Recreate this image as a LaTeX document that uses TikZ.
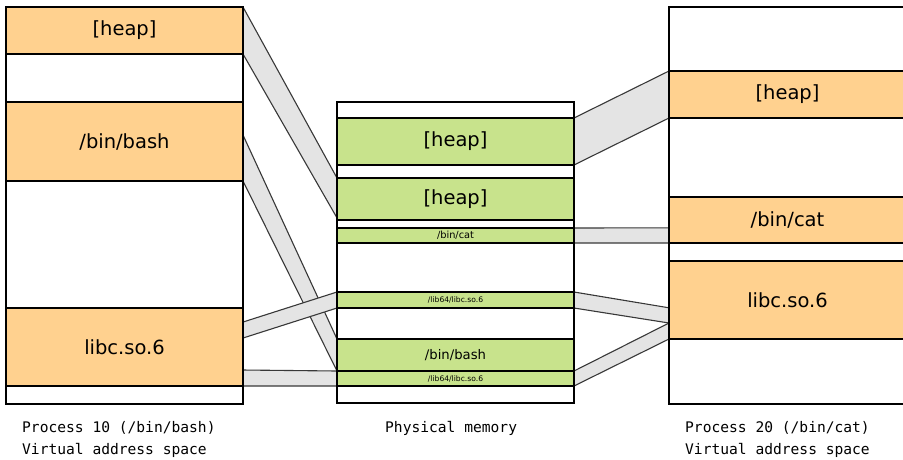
\documentclass[tikz,border=0pt]{standalone}
\usepackage{fontspec}
\setmainfont{DejaVu Sans}
\setmonofont{DejaVu Sans Mono}
\usetikzlibrary{calc,backgrounds}
\definecolor{orangebox}{HTML}{FFD18F}
\definecolor{greenbox}{HTML}{C8E38C}
\definecolor{bandfill}{HTML}{E4E4E4}
\definecolor{bandline}{HTML}{383838}
\begin{document}
\begin{tikzpicture}[x=1pt,y=-1pt,
  frame/.style={draw=black, line width=1.4pt, fill=white, inner sep=0, outer sep=0, minimum width=237pt},
  region/.style={draw=black, line width=1.4pt, inner sep=0, outer sep=0, minimum width=237pt, font=\fontsize{19.5}{23}\selectfont},
  vorange/.style={region, fill=orangebox},
  pgreen/.style={region, fill=greenbox},
  band/.style={fill=bandfill, draw=bandline, line width=1.1pt, line join=round},
  caption/.style={font=\ttfamily\fontsize{14.6}{22}\selectfont, align=left, anchor=west, inner sep=0}]
\clip (0,0) rectangle (903,459);
% columns
\node[frame, minimum height=397pt] (lcol) at (124.5,205.5) {};
\node[frame, minimum height=301pt] (mcol) at (455.5,252.5) {};
\node[frame, minimum height=397pt] (rcol) at (787.5,205.5) {};
% left process regions
\node[vorange, minimum height=47pt] (lheap) at (124.5,30.5) {[heap]};
\node[vorange, minimum height=79pt] (lbash) at (124.5,141.5) {/bin/bash};
\node[vorange, minimum height=78pt] (llibc) at (124.5,347) {libc.so.6};
% physical memory regions
\node[pgreen, minimum height=47pt] (mheapA) at (455.5,141.5) {[heap]};
\node[pgreen, minimum height=42pt] (mheapB) at (455.5,199) {[heap]};
\node[pgreen, minimum height=15pt, font=\fontsize{9.8}{10}\selectfont] (mcat) at (455.5,235.5) {/bin/cat};
\node[pgreen, minimum height=16pt, font=\fontsize{7.6}{9}\selectfont] (mlibA) at (455.5,300) {/lib64/libc.so.6};
\node[pgreen, minimum height=32pt, font=\fontsize{13.2}{15}\selectfont] (mbash) at (455.5,355) {/bin/bash};
\node[pgreen, minimum height=15pt, font=\fontsize{7.6}{9}\selectfont] (mlibB) at (455.5,378.5) {/lib64/libc.so.6};
% right process regions
\node[vorange, minimum height=47pt] (rheap) at (787.5,94.5) {[heap]};
\node[vorange, minimum height=46pt] (rcat) at (787.5,220) {/bin/cat};
\node[vorange, minimum height=78pt] (rlibc) at (787.5,300) {libc.so.6};
% partial edge points
\coordinate (lbashT) at ($(lbash.north east)!0.418!(lbash.south east)$);
\coordinate (llibcA) at ($(llibc.north east)!0.18!(llibc.south east)$);
\coordinate (llibcB) at ($(llibc.north east)!0.385!(llibc.south east)$);
\coordinate (llibcC) at ($(llibc.north east)!0.795!(llibc.south east)$);
\coordinate (rlibcA) at ($(rlibc.north west)!0.6!(rlibc.south west)$);
\coordinate (rlibcB) at ($(rlibc.north west)!0.795!(rlibc.south west)$);
\coordinate (mheapBb) at ($(mheapB.north west)!0.95!(mheapB.south west)$);
% captions
\node[caption] (cap1) at (22,439) {Process 10 (/bin/bash)\\Virtual address space};
\node[caption] (cap2) at (385,428) {Physical memory};
\node[caption] (cap3) at (685,439) {Process 20 (/bin/cat)\\Virtual address space};
\begin{pgfonlayer}{background}
\fill[white] (0,0) rectangle (903,459);
\draw[band] (lheap.north east) -- (mheapB.north west) -- (mheapBb) -- (lheap.south east) -- cycle;
\draw[band] (lbashT) -- (mbash.north west) -- (mbash.south west) -- (lbash.south east) -- cycle;
\draw[band] (llibcA) -- (mlibA.north west) -- (mlibA.south west) -- (llibcB) -- cycle;
\draw[band] (llibcC) -- (mlibB.north west) -- (mlibB.south west) -- (llibc.south east) -- cycle;
\draw[band] (mheapA.north east) -- (rheap.north west) -- (rheap.south west) -- (mheapA.south east) -- cycle;
\draw[band] (mcat.north east) -- ($(rcat.north west)!0.67!(rcat.south west)$) -- (rcat.south west) -- (mcat.south east) -- cycle;
\draw[band] (mlibA.north east) -- (rlibcA) -- (rlibcB) -- (mlibA.south east) -- cycle;
\draw[band] (mlibB.north east) -- (rlibcB) -- (rlibc.south west) -- (mlibB.south east) -- cycle;
\end{pgfonlayer}
\end{tikzpicture}
\end{document}
